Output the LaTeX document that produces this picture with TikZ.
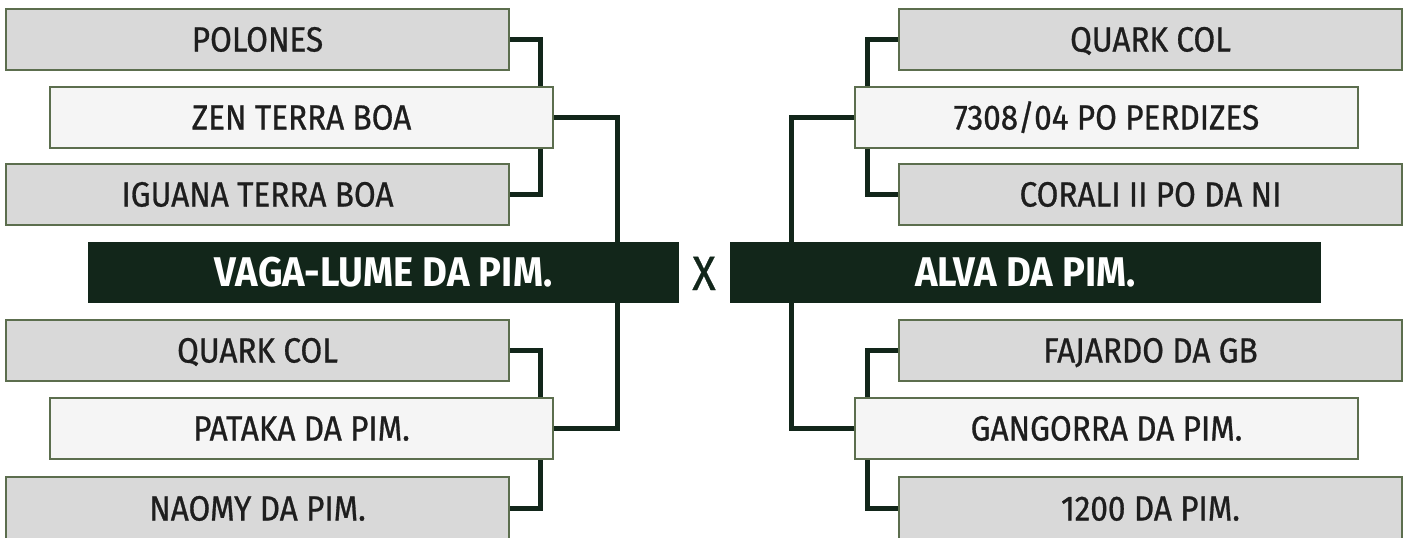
\documentclass[tikz,border=0pt]{standalone}
\usepackage{fontspec}
\setmainfont{Fira Sans}
\newfontfamily\bracketfont[FakeStretch=0.9, FakeBold=0.8]{Fira Sans}
\newfontfamily\barfont[FakeStretch=0.92]{Fira Sans}
\definecolor{boxgray}{HTML}{D9D9D9}
\definecolor{midgray}{HTML}{F5F5F5}
\definecolor{boxborder}{HTML}{5C6E4E}
\definecolor{darkgreen}{HTML}{12261A}
\definecolor{textcol}{HTML}{1E1E1E}
\pgfdeclarelayer{bg}
\pgfdeclarelayer{lines}
\pgfsetlayers{bg,lines,main}
\tikzset{
  outerbox/.style={draw=boxborder, line width=1.3pt, fill=boxgray, rectangle,
    minimum width=503pt, minimum height=61pt, inner sep=0pt,
    font=\bracketfont\fontsize{35}{35}\selectfont, text=textcol,
    text height=24pt, text depth=0pt},
  midbox/.style={outerbox, fill=midgray},
  finalbar/.style={rectangle, fill=darkgreen, draw=none,
    minimum width=591pt, minimum height=61pt, inner sep=0pt,
    font=\barfont\bfseries\fontsize{41.5}{41.5}\selectfont, text=white,
    text height=28.5pt, text depth=0pt},
  vslabel/.style={font=\bracketfont\fontsize{48}{48}\selectfont, text=darkgreen,
    inner sep=0pt, text height=33pt, text depth=0pt},
  conn/.style={draw=darkgreen, line width=5pt, line cap=butt, line join=miter}
}
\begin{document}
\begin{tikzpicture}[x=1pt,y=-1pt]
\useasboundingbox (0,0) rectangle (1408,538);
\begin{pgfonlayer}{bg}
  \fill[white] (0,0) rectangle (1408,538);
\end{pgfonlayer}
\clip (0,0) rectangle (1408,538);

% left side
\node[outerbox] (L1) at (257.5,39.5) {POLONES};
\node[midbox]   (L2) at (301.5,117.5) {ZEN TERRA BOA};
\node[outerbox] (L3) at (257.5,194.5) {IGUANA TERRA BOA};
\node[finalbar] (LB) at (383.5,272.5) {VAGA-LUME DA PIM.};
\node[outerbox] (L5) at (257.5,350.5) {QUARK COL};
\node[midbox]   (L6) at (301.5,428.5) {PATAKA DA PIM.};
\node[outerbox, minimum height=63pt] (L7) at (257.5,508.5) {NAOMY DA PIM.};

% right side
\node[outerbox] (R1) at (1150.5,39.5) {QUARK COL};
\node[midbox]   (R2) at (1106.5,117.5) {7308/04 PO PERDIZES};
\node[outerbox] (R3) at (1150.5,194.5) {CORALI II PO DA NI};
\node[finalbar] (RB) at (1025.5,272.5) {ALVA DA PIM.};
\node[outerbox] (R5) at (1150.5,350.5) {FAJARDO DA GB};
\node[midbox]   (R6) at (1106.5,428.5) {GANGORRA DA PIM.};
\node[outerbox, minimum height=63pt] (R7) at (1150.5,508.5) {1200 DA PIM.};

\node[vslabel] (VS) at (704,273.5) {X};

\coordinate (lx) at (540.5,0);
\coordinate (ltx) at (617,0);
\coordinate (rx) at (867.5,0);
\coordinate (rtx) at (791,0);

\begin{pgfonlayer}{lines}
  % left upper
  \draw[conn] (L1.east) -| (L2.north -| lx);
  \draw[conn] (L2.south -| lx) |- (L3.east);
  \draw[conn] (L2.east) -| (LB.north -| ltx);
  % left lower
  \draw[conn] (L5.east) -| (L6.north -| lx);
  \draw[conn] (L6.south -| lx) |- (L7.east);
  \draw[conn] (LB.south -| ltx) |- (L6.east);
  % right upper
  \draw[conn] (R1.west) -| (R2.north -| rx);
  \draw[conn] (R2.south -| rx) |- (R3.west);
  \draw[conn] (R2.west) -| (RB.north -| rtx);
  % right lower
  \draw[conn] (R5.west) -| (R6.north -| rx);
  \draw[conn] (R6.south -| rx) |- (R7.west);
  \draw[conn] (RB.south -| rtx) |- (R6.west);
\end{pgfonlayer}
\end{tikzpicture}
\end{document}
